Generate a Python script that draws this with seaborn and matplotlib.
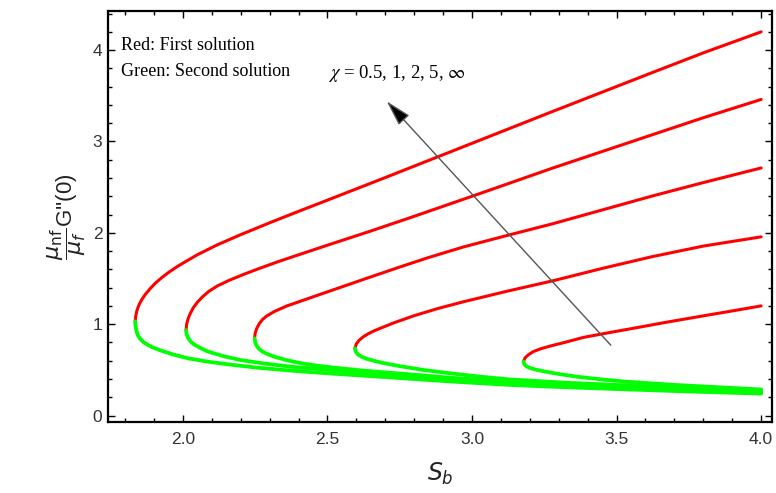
import numpy as np
import pandas as pd
import matplotlib
matplotlib.use("Agg")
import matplotlib.pyplot as plt
from matplotlib.ticker import MultipleLocator
import seaborn as sns

# S_b values and mu_nf/mu_f G''(0), one curve per chi
chi_labels = ["inf", "5", "2", "1", "0.5"]

# first solution (red, upper branch)
red_s_inf = [1.835, 1.837, 1.841, 1.848, 1.858, 1.871, 1.887, 1.905, 1.927, 1.952, 1.98, 2.012,
             2.05, 2.12, 2.20, 2.30, 2.40, 2.51, 2.70, 2.88, 3.08, 3.28, 3.45, 3.62, 3.80, 4.00]
red_g_inf = [1.03, 1.09, 1.15, 1.21, 1.27, 1.33, 1.39, 1.45, 1.51, 1.57, 1.63, 1.69,
             1.76, 1.87, 1.98, 2.11, 2.235, 2.37, 2.605, 2.83, 3.08, 3.33, 3.54, 3.75, 3.97, 4.20]
red_s_5 = [2.011, 2.013, 2.018, 2.026, 2.036, 2.05, 2.068, 2.09, 2.12, 2.16, 2.21, 2.26,
           2.33, 2.41, 2.51, 2.65, 2.79, 3.0, 3.28, 3.45, 3.62, 3.80, 4.0]
red_g_5 = [0.935, 1.0, 1.06, 1.12, 1.18, 1.24, 1.30, 1.36, 1.42, 1.48, 1.545, 1.605,
           1.685, 1.77, 1.875, 2.02, 2.17, 2.40, 2.71, 2.89, 3.07, 3.26, 3.46]
red_s_2 = [2.248, 2.25, 2.255, 2.263, 2.275, 2.29, 2.317, 2.36, 2.41, 2.46, 2.51, 2.62,
           2.74, 2.85, 2.97, 3.12, 3.28, 3.45, 3.62, 3.80, 4.0]
red_g_2 = [0.845, 0.90, 0.95, 1.00, 1.05, 1.09, 1.14, 1.20, 1.255, 1.31, 1.365, 1.485,
           1.615, 1.73, 1.845, 1.97, 2.10, 2.25, 2.40, 2.55, 2.71]
red_s_1 = [2.595, 2.60, 2.61, 2.624, 2.641, 2.66, 2.682, 2.73, 2.797, 2.88, 2.97, 3.12,
           3.28, 3.45, 3.62, 3.80, 4.0]
red_g_1 = [0.735, 0.785, 0.825, 0.862, 0.895, 0.925, 0.954, 1.015, 1.09, 1.17, 1.245, 1.36,
           1.475, 1.61, 1.737, 1.855, 1.956]
red_s_05 = [3.178, 3.183, 3.195, 3.212, 3.237, 3.27, 3.32, 3.385, 3.47, 3.558, 3.67, 3.789,
            3.90, 4.0]
red_g_05 = [0.59, 0.63, 0.665, 0.70, 0.73, 0.76, 0.80, 0.855, 0.905, 0.955, 1.02, 1.085,
            1.145, 1.20]

# second solution (green, lower branch)
green_s_inf = [1.835, 1.836, 1.839, 1.844, 1.852, 1.865, 1.89, 1.925, 1.97, 2.02, 2.087, 2.17,
               2.26, 2.38, 2.51, 2.63, 2.75, 2.94, 3.13, 3.32, 3.50, 3.75, 4.00]
green_g_inf = [1.03, 0.98, 0.93, 0.88, 0.84, 0.80, 0.753, 0.71, 0.665, 0.625, 0.589, 0.555,
               0.523, 0.49, 0.46, 0.435, 0.41, 0.37, 0.335, 0.31, 0.29, 0.263, 0.24]
green_s_5 = [2.011, 2.013, 2.018, 2.027, 2.04, 2.06, 2.087, 2.14, 2.20, 2.28, 2.375, 2.51,
             2.63, 2.75, 2.94, 3.13, 3.32, 3.50, 3.75, 4.0]
green_g_5 = [0.935, 0.89, 0.85, 0.81, 0.775, 0.74, 0.70, 0.65, 0.607, 0.57, 0.534, 0.498,
             0.47, 0.44, 0.395, 0.355, 0.328, 0.305, 0.277, 0.25]
green_s_2 = [2.248, 2.25, 2.255, 2.263, 2.275, 2.295, 2.317, 2.36, 2.41, 2.46, 2.52, 2.63,
             2.75, 2.94, 3.13, 3.32, 3.50, 3.75, 4.0]
green_g_2 = [0.845, 0.80, 0.765, 0.73, 0.70, 0.67, 0.643, 0.605, 0.572, 0.548, 0.525, 0.49,
             0.46, 0.41, 0.37, 0.342, 0.32, 0.29, 0.26]
green_s_1 = [2.595, 2.598, 2.605, 2.617, 2.635, 2.66, 2.69, 2.751, 2.83, 2.924, 3.03, 3.13,
             3.32, 3.50, 3.75, 4.0]
green_g_1 = [0.735, 0.70, 0.67, 0.645, 0.622, 0.60, 0.577, 0.54, 0.50, 0.462, 0.425, 0.395,
             0.36, 0.335, 0.30, 0.27]
green_s_05 = [3.178, 3.181, 3.19, 3.205, 3.224, 3.255, 3.29, 3.362, 3.45, 3.535, 3.62, 3.708,
              3.85, 4.0]
green_g_05 = [0.59, 0.56, 0.535, 0.515, 0.50, 0.48, 0.46, 0.425, 0.395, 0.37, 0.352, 0.334,
              0.31, 0.285]

red_branches = [(red_s_inf, red_g_inf), (red_s_5, red_g_5), (red_s_2, red_g_2),
                (red_s_1, red_g_1), (red_s_05, red_g_05)]
green_branches = [(green_s_inf, green_g_inf), (green_s_5, green_g_5), (green_s_2, green_g_2),
                  (green_s_1, green_g_1), (green_s_05, green_g_05)]

sns.set_theme(style="ticks")
plt.rcParams["font.family"] = ["Liberation Sans", "DejaVu Sans"]

fig, ax = plt.subplots(figsize=(7.76, 4.93), dpi=100)
fig.subplots_adjust(left=0.139, right=0.995, bottom=0.144, top=0.978)

for chi, (s, g) in zip(chi_labels, red_branches):
    df = pd.DataFrame({"Sb": s, "G": g})
    sns.lineplot(data=df, x="Sb", y="G", sort=False, estimator=None,
                 color="#ff0000", lw=2.2, solid_joinstyle="round", ax=ax)
for chi, (s, g) in zip(chi_labels, green_branches):
    df = pd.DataFrame({"Sb": s, "G": g})
    sns.lineplot(data=df, x="Sb", y="G", sort=False, estimator=None,
                 color="#00ff00", lw=2.7, solid_joinstyle="round", ax=ax)

ax.set_xlim(1.7405, 4.038)
ax.set_ylim(-0.071, 4.43)
ax.xaxis.set_major_locator(MultipleLocator(0.5))
ax.xaxis.set_minor_locator(MultipleLocator(0.1))
ax.yaxis.set_major_locator(MultipleLocator(1))
ax.yaxis.set_minor_locator(MultipleLocator(0.2))
ax.xaxis.set_major_formatter(plt.FormatStrFormatter("%.1f"))
ax.yaxis.set_major_formatter(plt.FormatStrFormatter("%d"))
ax.tick_params(which="both", direction="in", top=True, right=True, width=1.0, color="black")
ax.tick_params(which="major", length=5, labelsize=12.5, labelcolor="#333333")
ax.tick_params(axis="x", which="major", pad=7)
ax.tick_params(axis="y", which="major", pad=4)
ax.tick_params(which="minor", length=3)
for sp in ax.spines.values():
    sp.set_linewidth(1.6)
    sp.set_color("black")

ax.set_xlabel(r"$S_b$", fontsize=17, labelpad=10, color="#222222")
ax.set_ylabel(r"$\dfrac{\mu_{\mathrm{nf}}}{\mu_f}$G''(0)", fontsize=16, labelpad=3, color="#222222")

ax.text(1.786, 4.005, "Red: First solution", fontsize=13,
        family=["Liberation Serif", "DejaVu Serif"], color="black")
ax.text(1.786, 3.72, "Green: Second solution", fontsize=13,
        family=["Liberation Serif", "DejaVu Serif"], color="black")
ax.text(2.502, 3.70, r"$\chi$ = 0.5, 1, 2, 5, $\infty$", fontsize=13.5,
        family=["Liberation Serif", "DejaVu Serif"], math_fontfamily="stix", color="black")

ax.annotate("", xy=(2.705, 3.44), xytext=(3.48, 0.77),
            arrowprops=dict(arrowstyle="-|>,head_length=0.8,head_width=0.22",
                            fc="black", ec="#555555", lw=1.0, mutation_scale=20,
                            shrinkA=0, shrinkB=0))

fig.savefig("out.png", dpi=100)
